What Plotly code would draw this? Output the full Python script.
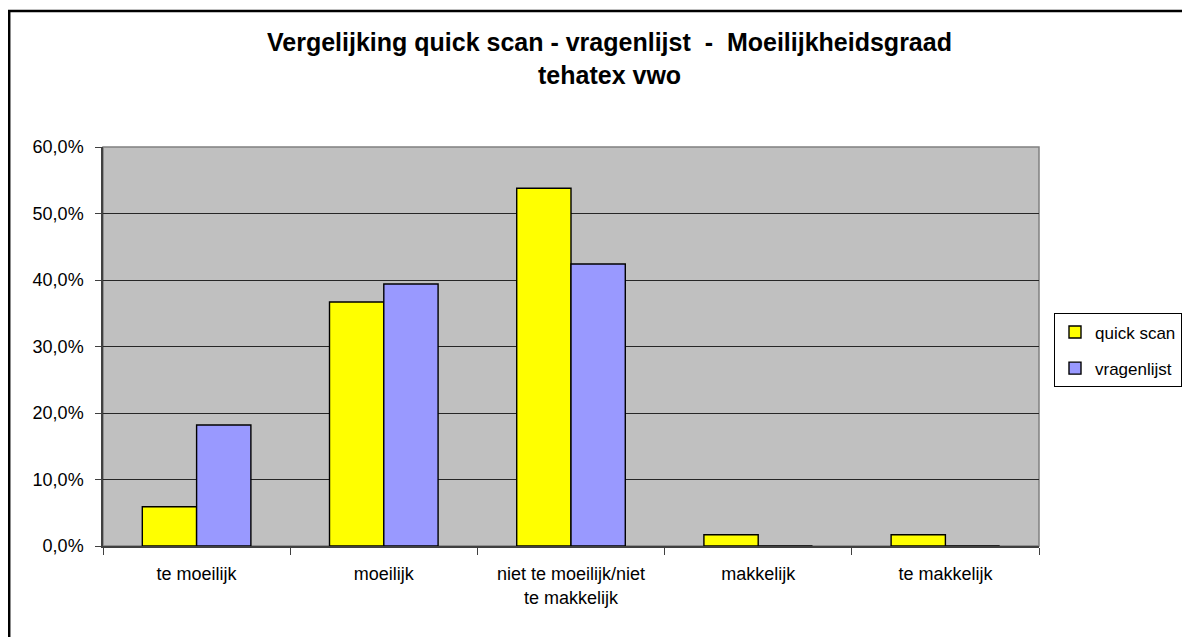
import plotly.graph_objects as go

categories = ["te moeilijk", "moeilijk", "niet te moeilijk/niet<br>te makkelijk", "makkelijk", "te makkelijk"]
quick_scan = [5.9, 36.7, 53.8, 1.7, 1.7]          # percent
vragenlijst = [18.2, 39.4, 42.4, 0.0, 0.0]        # percent
series_names = ["quick scan", "vragenlijst"]
y_ticks = [0, 10, 20, 30, 40, 50, 60]             # percent
title_line1 = "Vergelijking quick scan - vragenlijst \u00a0- \u00a0Moeilijkheidsgraad"
title_line2 = "tehatex vwo"

# page has an 8px body margin; figure sized to fit the 1190x637 window
OFF = 8
W, H = 1190 - OFF, 637 - OFF
L, R, T, B = 95, 151, 139, 91
pw, ph = W - L - R, H - T - B

def px_x(x):  # page pixel -> paper x
    return (x - OFF - L) / pw

def px_y(y):  # page pixel -> paper y
    return (H - B - (y - OFF)) / ph

FONT = "Liberation Sans, Arial, sans-serif"

fig = go.Figure()
fig.add_trace(go.Bar(
    x=categories, y=[v / 100 for v in quick_scan], name=series_names[0], legendgroup="a",
    marker=dict(color="#FFFF00", line=dict(color="#000000", width=1.4)),
))
fig.add_trace(go.Bar(
    x=categories, y=[v / 100 for v in vragenlijst], name=series_names[1], legendgroup="b",
    marker=dict(color="#9999FF", line=dict(color="#000000", width=1.4)),
))

fig.update_layout(
    width=W, height=H,
    margin=dict(l=L, r=R, t=T, b=B, pad=0, autoexpand=False),
    paper_bgcolor="white",
    plot_bgcolor="#C0C0C0",
    barmode="group", bargap=0.42, bargroupgap=0,
    separators=",.",
    font=dict(family=FONT, size=18, color="black"),
    showlegend=True,
    legend=dict(
        x=px_x(1054), xanchor="left", y=0.49, yanchor="middle",
        bgcolor="white", bordercolor="black", borderwidth=1,
        font=dict(family=FONT, size=17, color="black"),
        tracegroupgap=11, itemwidth=30, traceorder="grouped",
    ),
    xaxis=dict(
        type="category", showgrid=False, tickson="boundaries",
        ticks="outside", ticklen=7, tickwidth=1.3, tickcolor="#404040",
        showline=True, linecolor="#404040", linewidth=1.5,
        ticklabelstandoff=11,
        tickfont=dict(family=FONT, size=18, color="black"),
    ),
    yaxis=dict(
        range=[0, 0.6], tickvals=[t / 100 for t in y_ticks], tickformat=".1%",
        showgrid=True, gridcolor="#262626", gridwidth=1.4,
        ticks="outside", ticklen=6, tickwidth=1.3, tickcolor="#404040",
        showline=True, linecolor="#404040", linewidth=1.5,
        zeroline=False, ticklabelstandoff=8,
        tickfont=dict(family=FONT, size=18, color="black"),
    ),
    shapes=[
        dict(type="rect", xref="paper", yref="paper", x0=0, x1=1, y0=0, y1=1,
             line=dict(color="#808080", width=1.5), layer="below"),
        dict(type="rect", xref="paper", yref="paper",
             x0=px_x(9.2), x1=px_x(1260), y0=px_y(720), y1=px_y(11),
             line=dict(color="black", width=2.5), layer="above"),
    ],
    annotations=[
        dict(text="<b>" + title_line1 + "</b>", xref="paper", yref="paper",
             x=px_x(609), y=px_y(42), xanchor="center", yanchor="middle",
             showarrow=False, font=dict(family=FONT, size=25, color="black")),
        dict(text="<b>" + title_line2 + "</b>", xref="paper", yref="paper",
             x=px_x(609), y=px_y(75), xanchor="center", yanchor="middle",
             showarrow=False, font=dict(family=FONT, size=25, color="black")),
    ],
)

fig.write_html("out.html")
